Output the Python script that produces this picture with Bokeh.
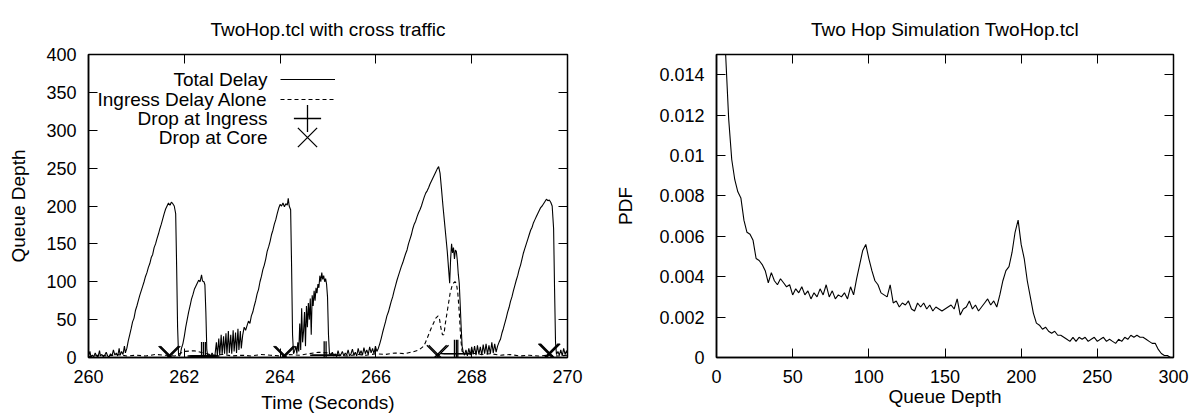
from bokeh.plotting import figure
from bokeh.layouts import row
from bokeh.models import (Range1d, LinearAxis, FixedTicker, Legend, LegendItem,
                          Label, PrintfTickFormatter)
from bokeh.embed import file_html
from bokeh.resources import INLINE
from bokeh.core.properties import value

FONT = "Liberation Sans"

# ---------------- left chart data ----------------
left_title = "TwoHop.tcl with cross traffic"
left_xlabel = "Time (Seconds)"
left_ylabel = "Queue Depth"
left_xticks = [260, 262, 264, 266, 268, 270]
left_yticks = [0, 50, 100, 150, 200, 250, 300, 350, 400]
legend_labels = ["Total Delay", "Ingress Delay Alone", "Drop at Ingress", "Drop at Core"]

total_time = [
    260.00, 260.03, 260.05, 260.08, 260.11, 260.14, 260.17, 260.20, 260.23, 260.25,
    260.28, 260.31, 260.34, 260.37, 260.40, 260.43, 260.46, 260.49, 260.52, 260.55,
    260.58, 260.61, 260.64, 260.66, 260.69, 260.72, 260.75, 260.77,
    260.80, 260.83, 260.86, 260.89, 260.92, 260.95, 260.98, 261.01, 261.04, 261.07,
    261.10, 261.13, 261.16, 261.19, 261.22, 261.25, 261.28, 261.31, 261.34, 261.37,
    261.40, 261.43, 261.46, 261.49, 261.52, 261.55, 261.58, 261.61, 261.64, 261.67,
    261.70, 261.73, 261.76, 261.79, 261.82, 261.84, 261.86, 261.88,
    261.90, 261.92, 261.94, 261.97, 262.00, 262.03, 262.06, 262.09, 262.12, 262.15,
    262.18, 262.21, 262.24, 262.27, 262.30, 262.33, 262.36, 262.38, 262.41, 262.43,
    262.45, 262.47, 262.49,
    262.52, 262.55, 262.58, 262.61, 262.64, 262.67, 262.69, 262.72, 262.74, 262.77,
    262.79, 262.82, 262.84, 262.87, 262.89, 262.92, 262.94, 262.97, 262.99, 263.02,
    263.04, 263.07, 263.09, 263.12, 263.14, 263.17, 263.19, 263.22, 263.25, 263.28,
    263.31, 263.34, 263.37, 263.40, 263.43, 263.46, 263.49, 263.52, 263.55, 263.58,
    263.61, 263.64, 263.67, 263.70, 263.73, 263.76, 263.79, 263.82, 263.85, 263.88,
    263.91, 263.94, 263.97, 264.00, 264.03, 264.06, 264.09, 264.12, 264.15, 264.17,
    264.19, 264.22, 264.24, 264.26, 264.28,
    264.30, 264.33, 264.35, 264.37, 264.39, 264.41, 264.43, 264.45, 264.47, 264.49,
    264.51, 264.53, 264.55, 264.57, 264.59, 264.61, 264.63, 264.65, 264.67, 264.69,
    264.71, 264.73, 264.75, 264.77, 264.79, 264.81, 264.83, 264.85, 264.87, 264.89,
    264.91, 264.93, 264.95, 264.97, 264.99, 265.01, 265.03,
    265.06, 265.09, 265.12, 265.15, 265.18, 265.21, 265.24, 265.27, 265.30, 265.33,
    265.36, 265.39, 265.42, 265.45, 265.48, 265.51, 265.54, 265.57, 265.60, 265.63,
    265.66, 265.69, 265.72, 265.75, 265.78, 265.81, 265.84, 265.87, 265.90, 265.93,
    265.96, 265.99, 266.02,
    266.05, 266.08, 266.11, 266.14, 266.17, 266.20, 266.23, 266.26, 266.29, 266.32,
    266.35, 266.38, 266.41, 266.44, 266.47, 266.50, 266.53, 266.56, 266.59, 266.62,
    266.65, 266.68, 266.71, 266.74, 266.77, 266.80, 266.83, 266.86, 266.89, 266.92,
    266.95, 266.98, 267.01, 267.04, 267.07, 267.10, 267.13, 267.16, 267.19, 267.22,
    267.25, 267.28, 267.31, 267.34, 267.37, 267.40, 267.43, 267.46, 267.49, 267.52,
    267.54, 267.56, 267.58, 267.60, 267.62, 267.64, 267.66, 267.68, 267.70, 267.72,
    267.74, 267.76, 267.78, 267.80, 267.82,
    267.85, 267.88, 267.91, 267.94, 267.97, 268.00, 268.03, 268.06, 268.09, 268.12,
    268.15, 268.18, 268.21, 268.24, 268.27, 268.30, 268.33, 268.36, 268.39, 268.42,
    268.45, 268.48, 268.51,
    268.54, 268.57, 268.60, 268.63, 268.66, 268.69, 268.72, 268.75, 268.78, 268.81,
    268.84, 268.87, 268.90, 268.93, 268.96, 268.99, 269.02, 269.05, 269.08, 269.11,
    269.14, 269.17, 269.20, 269.23, 269.26, 269.29, 269.32, 269.35, 269.38, 269.41,
    269.44, 269.47, 269.50, 269.53, 269.56, 269.59, 269.62, 269.65, 269.68, 269.71,
    269.73, 269.75, 269.77,
    269.80, 269.83, 269.86, 269.89, 269.92, 269.95, 269.98, 270.00,
]
total_delay = [
    2, 8, 1, 3, 1, 6, 2, 1, 9, 2,
    4, 1, 3, 7, 2, 1, 5, 2, 10, 3,
    6, 2, 12, 3, 8, 4, 15, 6,
    12, 22, 30, 38, 47, 52, 62, 68, 75, 82,
    88, 94, 100, 107, 112, 119, 124, 132, 136, 145,
    150, 157, 163, 170, 176, 183, 190, 196, 200, 204,
    201, 205, 203, 200, 190, 120, 40, 3,
    2, 5, 12, 18, 28, 40, 50, 60, 68, 77,
    83, 90, 94, 98, 102, 100, 109, 101, 100, 96,
    60, 10, 2,
    4, 2, 6, 2, 3, 20, 2, 25, 3, 30,
    4, 28, 5, 32, 4, 35, 6, 30, 5, 36,
    8, 33, 6, 38, 10, 35, 12, 30, 40, 36,
    42, 48, 45, 55, 60, 68, 75, 84, 90, 100,
    107, 116, 122, 130, 140, 146, 153, 162, 168, 176,
    182, 190, 197, 202, 200, 204, 199, 203, 201, 210,
    200, 195, 120, 30, 5,
    8, 15, 5, 20, 8, 45, 10, 65, 20, 35,
    60, 15, 68, 40, 72, 50, 78, 30, 82, 68,
    88, 75, 92, 85, 97, 92, 108, 100, 112, 103,
    108, 100, 104, 97, 80, 30, 5,
    3, 7, 2, 5, 1, 9, 2, 4, 8, 2,
    6, 3, 10, 2, 5, 11, 3, 7, 2, 12,
    4, 9, 3, 13, 5, 10, 4, 14, 6, 12,
    5, 15, 8,
    12, 18, 25, 33, 40, 47, 55, 60, 67, 74,
    80, 88, 95, 102, 108, 114, 120, 125, 131, 137,
    142, 150, 156, 162, 170, 176, 180, 186, 191, 195,
    200, 206, 212, 217, 220, 224, 229, 233, 237, 241,
    245, 249, 252, 243, 222, 200, 180, 160, 140, 115,
    98, 130, 150, 138, 145, 130, 142, 140, 128, 110,
    98, 70, 40, 15, 8,
    3, 10, 2, 12, 3, 14, 4, 15, 3, 16,
    4, 14, 3, 17, 5, 18, 4, 16, 5, 20,
    6, 18, 7,
    15, 20, 24, 32, 38, 45, 52, 60, 66, 74,
    80, 88, 95, 102, 108, 116, 122, 130, 138, 144,
    150, 156, 162, 168, 172, 178, 182, 186, 190, 194,
    198, 200, 203, 206, 209, 207, 208, 205, 200, 170,
    90, 20, 4,
    8, 3, 10, 2, 12, 4, 9, 5,
]

ingress_time = [
    260.0, 260.2, 260.4, 260.6, 260.8, 261.0, 261.2, 261.4, 261.6, 261.8,
    262.0, 262.2, 262.4, 262.6, 262.8, 263.0, 263.2, 263.4, 263.6, 263.8,
    264.0, 264.2, 264.4, 264.6, 264.8, 265.0, 265.2, 265.4, 265.6, 265.8,
    266.0, 266.2, 266.4, 266.6, 266.8, 266.9, 267.0, 267.05, 267.1, 267.15,
    267.2, 267.25, 267.3, 267.33, 267.36, 267.39, 267.42, 267.45, 267.5, 267.55,
    267.6, 267.65, 267.68, 267.71, 267.74, 267.77, 267.8, 267.9, 268.0, 268.2,
    268.4, 268.6, 268.8, 269.0, 269.2, 269.4, 269.6, 269.8, 270.0,
]
ingress_delay = [
    1, 3, 2, 4, 2, 3, 2, 4, 3, 2,
    8, 9, 6, 3, 4, 2, 3, 2, 4, 3,
    2, 4, 3, 5, 7, 6, 3, 2, 4, 3,
    5, 4, 6, 5, 8, 10, 15, 22, 30, 38,
    45, 52, 55, 50, 38, 30, 30, 45, 65, 85,
    97, 100, 98, 85, 60, 25, 8, 5, 6, 4,
    5, 3, 4, 2, 3, 2, 3, 2, 3,
]

drop_ingress_time = [262.36, 262.40, 262.44, 264.92, 264.96, 267.64, 267.68, 267.71]
drop_ingress_depth = [2, 2, 2, 3, 3, 5, 5, 5]
drop_core_time = [261.67, 261.69, 261.71, 264.07, 264.09, 264.11, 267.27, 267.31,
                  269.60, 269.62, 269.64]
drop_core_depth = [2, 2, 2, 2, 2, 2, 3, 3, 5, 5, 5]

# ---------------- right chart data ----------------
right_title = "Two Hop Simulation TwoHop.tcl"
right_xlabel = "Queue Depth"
right_ylabel = "PDF"
right_xticks = [0, 50, 100, 150, 200, 250, 300]
right_yticks = [0, 0.002, 0.004, 0.006, 0.008, 0.01, 0.012, 0.014]

pdf_depth = [
    4, 6, 8, 10, 12, 14, 16, 18, 20, 22, 24, 26, 28, 30, 32, 34, 36, 38, 40, 42,
    44, 46, 48, 50, 52, 54, 56, 58, 60, 62, 64, 66, 68, 70, 72, 74, 76, 78, 80, 82,
    84, 86, 88, 90, 92, 94, 96, 98, 100, 102, 104, 106, 108, 110, 112, 114, 116, 118, 120, 122,
    124, 126, 128, 130, 132, 134, 136, 138, 140, 142, 144, 146, 148, 150, 152, 154, 156, 158, 160, 162,
    164, 166, 168, 170, 172, 174, 176, 178, 180, 182, 184, 186, 188, 190, 192, 194, 196, 198, 200, 202,
    204, 206, 208, 210, 212, 214, 216, 218, 220, 222, 224, 226, 228, 230, 232, 234, 236, 238, 240, 242,
    244, 246, 248, 250, 252, 254, 256, 258, 260, 262, 264, 266, 268, 270, 272, 274, 276, 278, 280, 282,
    284, 286, 288, 290, 292, 294, 296, 298, 300,
]
pdf_value = [
    0.0190, 0.0150, 0.0118, 0.0098, 0.0088, 0.0082, 0.0079, 0.0068, 0.0062, 0.0061,
    0.0058, 0.0049, 0.0048, 0.0046, 0.0043, 0.0037, 0.0042, 0.0038, 0.0036, 0.0039,
    0.0037, 0.0035, 0.0036, 0.0031, 0.0034, 0.0032, 0.0035, 0.0031, 0.0033, 0.0029,
    0.0032, 0.0030, 0.0034, 0.0031, 0.0036, 0.0030, 0.0033, 0.0029, 0.0031, 0.0030,
    0.0032, 0.0029, 0.0035, 0.0031, 0.0039, 0.0046, 0.0053, 0.0056, 0.0049, 0.0043,
    0.0038, 0.0036, 0.0032, 0.0031, 0.0030, 0.0036, 0.0027, 0.0028, 0.0025, 0.0027,
    0.0026, 0.0028, 0.0024, 0.0023, 0.0027, 0.0025, 0.0027, 0.0024, 0.0026, 0.0023,
    0.0025, 0.0024, 0.0023, 0.0024, 0.0025, 0.0026, 0.0024, 0.0029, 0.0021, 0.0024,
    0.0025, 0.0028, 0.0024, 0.0026, 0.0023, 0.0025, 0.0027, 0.0029, 0.0026, 0.0028,
    0.0025, 0.0031, 0.0038, 0.0043, 0.0045, 0.0052, 0.0062, 0.0068, 0.0056, 0.0049,
    0.0038, 0.0030, 0.0022, 0.0017, 0.0016, 0.0014, 0.0015, 0.0013, 0.0012, 0.0013,
    0.0011, 0.0011, 0.0010, 0.0009, 0.0008, 0.0010, 0.0008, 0.0010, 0.0009, 0.0010,
    0.0008, 0.0009, 0.0010, 0.0008, 0.0009, 0.0010, 0.0008, 0.0009, 0.0008, 0.0007,
    0.0009, 0.0008, 0.0010, 0.0009, 0.0011, 0.0010, 0.0011, 0.0010, 0.0010, 0.0009,
    0.0008, 0.0007, 0.0007, 0.0004, 0.0002, 0.0001, 0.0001, 0.0000, 0.0000,
]


def style(p, xticks, yticks, xlabel, ylabel, xlab_standoff, ylab_standoff, yfmt=None):
    p.title.align = "center"
    p.title.text_font = FONT
    p.title.text_font_size = "19px"
    p.title.text_font_style = "normal"
    p.title.text_color = "black"
    p.title.standoff = 30
    p.outline_line_color = "black"
    p.outline_line_width = 1.5
    p.xgrid.visible = False
    p.ygrid.visible = False
    p.xaxis.ticker = FixedTicker(ticks=xticks)
    p.yaxis.ticker = FixedTicker(ticks=yticks)
    p.xaxis.axis_label = xlabel
    p.yaxis.axis_label = ylabel
    if yfmt is not None:
        p.yaxis.formatter = yfmt
    for ax in (p.xaxis, p.yaxis):
        ax.axis_line_width = 1.5
        ax.axis_line_color = "black"
        ax.major_tick_in = 9
        ax.major_tick_out = 0
        ax.major_tick_line_color = "black"
        ax.minor_tick_line_color = None
        ax.major_label_text_font = FONT
        ax.major_label_text_font_size = "18px"
        ax.major_label_text_color = "black"
        ax.axis_label_text_font = FONT
        ax.axis_label_text_font_size = "19px"
        ax.axis_label_text_font_style = "normal"
        ax.axis_label_text_color = "black"
    p.xaxis.major_label_standoff = 12
    p.xaxis.axis_label_standoff = xlab_standoff
    p.yaxis.major_label_standoff = 12
    p.yaxis.axis_label_standoff = ylab_standoff
    # mirrored tick marks on the top and right edges (no labels)
    top = LinearAxis(ticker=FixedTicker(ticks=xticks), major_label_text_font_size="1px",
                     major_label_text_color=None, axis_line_color=None,
                     major_tick_in=9, major_tick_out=0, major_tick_line_color="black",
                     minor_tick_line_color=None, major_label_standoff=0)
    right = LinearAxis(ticker=FixedTicker(ticks=yticks), major_label_text_font_size="1px",
                       major_label_text_color=None, axis_line_color=None,
                       major_tick_in=9, major_tick_out=0, major_tick_line_color="black",
                       minor_tick_line_color=None, major_label_standoff=0)
    p.add_layout(top, "above")
    p.add_layout(right, "right")


# ---------------- left figure ----------------
p1 = figure(width=600, height=418, output_backend="svg", toolbar_location=None,
            x_range=Range1d(260, 270), y_range=Range1d(0, 400), title=left_title,
            min_border_left=88, min_border_right=33, min_border_top=54, min_border_bottom=61)
style(p1, left_xticks, left_yticks, left_xlabel, left_ylabel, 6, 14)

r_total = p1.line(total_time, total_delay, line_color="black", line_width=1.1)
r_ing = p1.line(ingress_time, ingress_delay, line_color="black", line_width=1.1,
                line_dash="4 3")
r_di = p1.scatter(drop_ingress_time, drop_ingress_depth, marker="cross", size=28,
                  line_color="black", line_width=1.3)
r_dc = p1.scatter(drop_core_time, drop_core_depth, marker="x", size=28,
                  line_color="black", line_width=1.3)

# legend (gnuplot style: text on the left, sample on the right)
legend_rows = [
    (r_total, 55, 20, 192, 268),
    (r_ing, 55, 20, 192, 248),
    (r_di, 68, 68, 185, 205),
    (r_dc, 68, 68, 185, 186),
]
for rend, gw, gh, lx, ly in legend_rows:
    lg = Legend(items=[LegendItem(label=value(""), renderers=[rend])],
                location=(lx, ly), glyph_width=gw, glyph_height=gh,
                padding=0, margin=0, spacing=0, label_width=0, label_height=gh,
                label_standoff=0, border_line_color=None, background_fill_alpha=0)
    p1.add_layout(lg, "center")

for text, ty in zip(legend_labels, [278, 258, 239, 220]):
    p1.add_layout(Label(x=179, y=ty, x_units="screen", y_units="screen", text=text,
                        text_align="right", text_baseline="middle", text_font=FONT,
                        text_font_size="19px", text_color="black"))

# ---------------- right figure ----------------
p2 = figure(width=592, height=418, output_backend="svg", toolbar_location=None,
            x_range=Range1d(0, 300), y_range=Range1d(0, 0.015), title=right_title,
            min_border_left=116, min_border_right=19, min_border_top=54, min_border_bottom=61)
style(p2, right_xticks, right_yticks, right_xlabel, right_ylabel, 0, 20,
      yfmt=PrintfTickFormatter(format="%g"))
p2.line(pdf_depth, pdf_value, line_color="black", line_width=1.1)

layout = row(p1, p2)
open("out.html", "w").write(file_html(layout, INLINE))
